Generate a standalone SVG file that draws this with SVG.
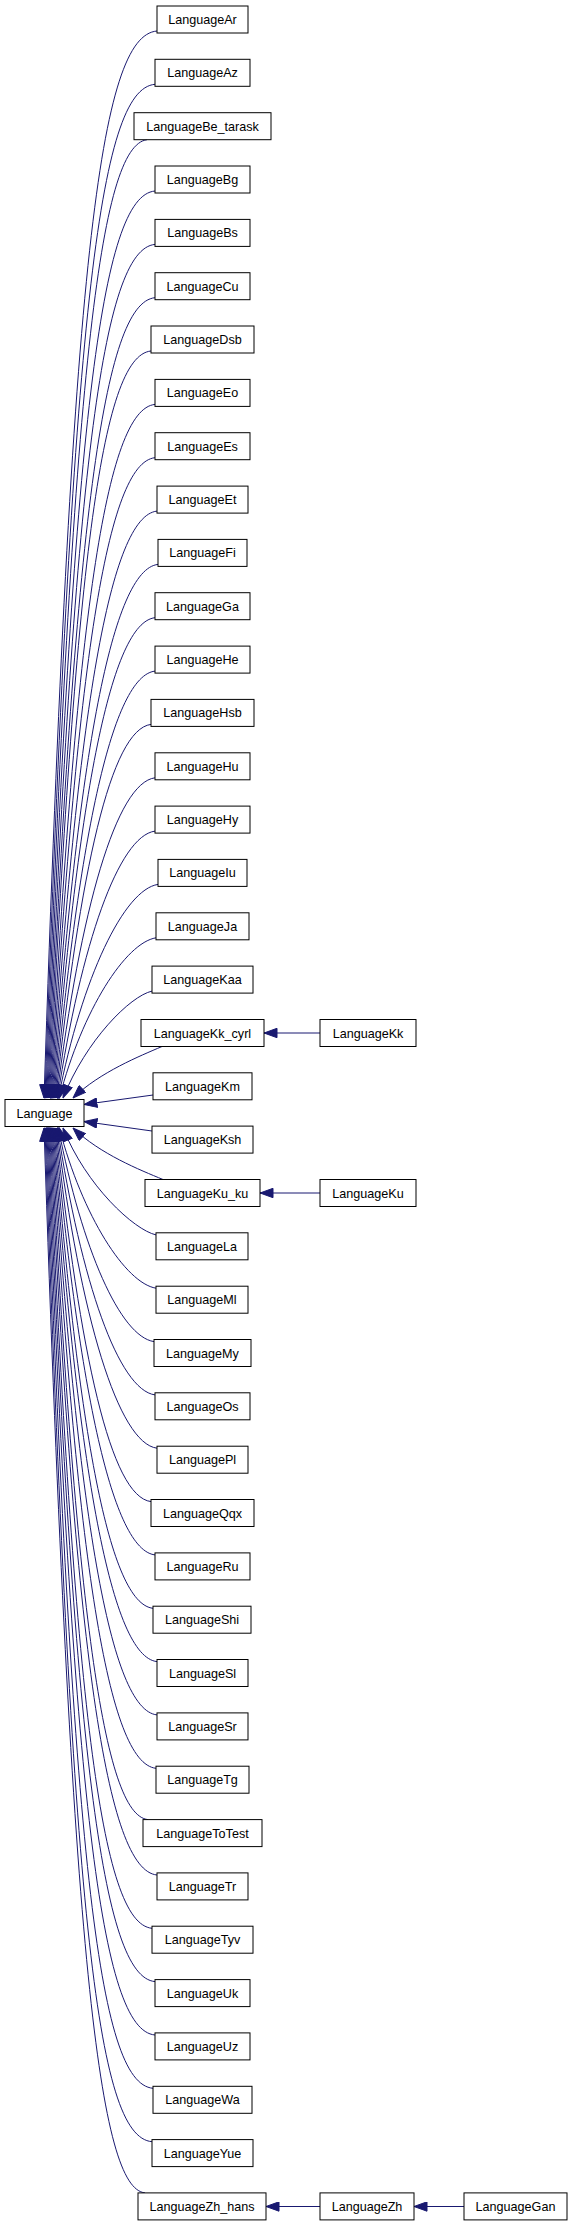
<svg xmlns="http://www.w3.org/2000/svg" width="573" height="2227" viewBox="0 0 573 2227">
<defs>
<style>
.n rect{fill:#fff;stroke:#000;stroke-width:1}
.n text{font-family:"Liberation Sans",Arial,sans-serif;font-size:12.6px;text-anchor:middle;fill:#000}
.e path{fill:none;stroke:#191970;stroke-width:1;marker-end:url(#ah)}
</style>
<marker id="ah" viewBox="0 0 14 10" refX="13.5" refY="5" markerWidth="14" markerHeight="10" markerUnits="userSpaceOnUse" orient="auto">
<path d="M0.5,0.3 L13.5,5 L0.5,9.7 Z" fill="#191970" stroke="#191970" stroke-width="1"/>
</marker>
</defs>
<rect width="573" height="2227" fill="#fff"/>
<g id="edges" class="e">
<path d="M157,31 C100,36 72,255 44,1098"/>
<path d="M155,84.3 C99,89.3 72.6,311.3 44.9,1098"/>
<path d="M147,139.7 C100,146 73.2,366.2 45.8,1098"/>
<path d="M155,191 C101,196 73.9,419.6 46.7,1098"/>
<path d="M155,244.4 C102.1,249.4 74.5,471 47.6,1098"/>
<path d="M155,297.7 C103.3,302.7 75.1,521.4 48.5,1098"/>
<path d="M151,351 C100.4,356 75.7,570.1 49.4,1098"/>
<path d="M155,404.4 C105.6,409.4 76.4,617.5 50.3,1098"/>
<path d="M155,457.7 C106.9,462.7 77,663.2 51.2,1098"/>
<path d="M157,511.1 C110.3,516.1 77.6,707.7 52.1,1098"/>
<path d="M158,564.4 C112.7,569.4 78.2,750.6 53,1098"/>
<path d="M155,617.7 C111.2,622.7 78.8,792 53.9,1098"/>
<path d="M155,671.1 C112.8,676.1 79.5,831.9 54.8,1098"/>
<path d="M151,724.4 C110.6,729.4 80.1,870.3 55.7,1098"/>
<path d="M155,777.8 C116.5,782.8 80.7,907.3 56.6,1098"/>
<path d="M155,831.1 C118.7,836.1 81.3,942.8 57.5,1098"/>
<path d="M158,884.4 C124.3,889.4 82,976.7 58.4,1098"/>
<path d="M156,937.8 C125.7,942.8 82.6,1009.3 59.3,1098"/>
<path d="M152,991.1 C130,996.1 86,1040.3 63,1098"/>
<path d="M162,1046.5 C140,1056 100,1072 73,1098"/>
<path d="M153,1095 L84,1104.5"/>
<path d="M152,1131 L84,1121.5"/>
<path d="M163,1179.5 C140,1170 100,1154 73,1128"/>
<path d="M156,1234.9 C134,1229.9 86,1185.7 63,1128"/>
<path d="M156,1288.2 C125.7,1283.2 82.6,1216.7 59.3,1128"/>
<path d="M154,1341.6 C120.3,1336.6 82,1249.3 58.4,1128"/>
<path d="M155,1394.9 C118.7,1389.9 81.3,1283.2 57.5,1128"/>
<path d="M157,1448.2 C118.5,1443.2 80.7,1318.7 56.6,1128"/>
<path d="M151,1501.6 C110.6,1496.6 80.1,1355.7 55.7,1128"/>
<path d="M155,1554.9 C112.8,1549.9 79.5,1394.1 54.8,1128"/>
<path d="M153,1608.3 C109.2,1603.3 78.8,1434 53.9,1128"/>
<path d="M157,1661.6 C111.7,1656.6 78.2,1475.4 53,1128"/>
<path d="M157,1714.9 C110.3,1709.9 77.6,1518.3 52.1,1128"/>
<path d="M156,1768.3 C107.9,1763.3 77,1562.8 51.2,1128"/>
<path d="M148,1819.6 C103,1815 76.4,1608.5 50.3,1128"/>
<path d="M157,1875 C106.4,1870 75.7,1655.9 49.4,1128"/>
<path d="M152,1928.3 C100.3,1923.3 75.1,1704.6 48.5,1128"/>
<path d="M155,1981.6 C102.1,1976.6 74.5,1755 47.6,1128"/>
<path d="M155,2035 C101,2030 73.9,1806.4 46.7,1128"/>
<path d="M153,2088.3 C98,2083.3 73.2,1859.8 45.8,1128"/>
<path d="M152,2141.7 C96,2136.7 72.6,1914.7 44.9,1128"/>
<path d="M145,2192.9 C100,2188 72,1971 44,1128"/>
<path d="M320,1033 L264,1033"/>
<path d="M320,1193 L260,1193"/>
<path d="M320,2206.5 L266,2206.5"/>
<path d="M464,2206.5 L414,2206.5"/>
</g>
<g id="Language" class="n"><rect x="5" y="1099.5" width="79" height="27"/><text x="44.5" y="1117.5">Language</text></g>
<g id="LanguageAr" class="n"><rect x="157" y="6" width="91" height="27"/><text x="202.5" y="24">LanguageAr</text></g>
<g id="LanguageAz" class="n"><rect x="155" y="59.3" width="95" height="27"/><text x="202.5" y="77.3">LanguageAz</text></g>
<g id="LanguageBe_tarask" class="n"><rect x="134" y="112.7" width="137" height="27"/><text x="202.5" y="130.7">LanguageBe_tarask</text></g>
<g id="LanguageBg" class="n"><rect x="155" y="166" width="95" height="27"/><text x="202.5" y="184">LanguageBg</text></g>
<g id="LanguageBs" class="n"><rect x="155" y="219.4" width="95" height="27"/><text x="202.5" y="237.4">LanguageBs</text></g>
<g id="LanguageCu" class="n"><rect x="155" y="272.7" width="95" height="27"/><text x="202.5" y="290.7">LanguageCu</text></g>
<g id="LanguageDsb" class="n"><rect x="151" y="326" width="103" height="27"/><text x="202.5" y="344">LanguageDsb</text></g>
<g id="LanguageEo" class="n"><rect x="155" y="379.4" width="95" height="27"/><text x="202.5" y="397.4">LanguageEo</text></g>
<g id="LanguageEs" class="n"><rect x="155" y="432.7" width="95" height="27"/><text x="202.5" y="450.7">LanguageEs</text></g>
<g id="LanguageEt" class="n"><rect x="157" y="486.1" width="91" height="27"/><text x="202.5" y="504.1">LanguageEt</text></g>
<g id="LanguageFi" class="n"><rect x="158" y="539.4" width="89" height="27"/><text x="202.5" y="557.4">LanguageFi</text></g>
<g id="LanguageGa" class="n"><rect x="155" y="592.7" width="95" height="27"/><text x="202.5" y="610.7">LanguageGa</text></g>
<g id="LanguageHe" class="n"><rect x="155" y="646.1" width="95" height="27"/><text x="202.5" y="664.1">LanguageHe</text></g>
<g id="LanguageHsb" class="n"><rect x="151" y="699.4" width="103" height="27"/><text x="202.5" y="717.4">LanguageHsb</text></g>
<g id="LanguageHu" class="n"><rect x="155" y="752.8" width="95" height="27"/><text x="202.5" y="770.8">LanguageHu</text></g>
<g id="LanguageHy" class="n"><rect x="155" y="806.1" width="95" height="27"/><text x="202.5" y="824.1">LanguageHy</text></g>
<g id="LanguageIu" class="n"><rect x="158" y="859.4" width="89" height="27"/><text x="202.5" y="877.4">LanguageIu</text></g>
<g id="LanguageJa" class="n"><rect x="156" y="912.8" width="93" height="27"/><text x="202.5" y="930.8">LanguageJa</text></g>
<g id="LanguageKaa" class="n"><rect x="152" y="966.1" width="101" height="27"/><text x="202.5" y="984.1">LanguageKaa</text></g>
<g id="LanguageKk_cyrl" class="n"><rect x="141" y="1019.5" width="123" height="27"/><text x="202.5" y="1037.5">LanguageKk_cyrl</text></g>
<g id="LanguageKm" class="n"><rect x="153" y="1072.8" width="99" height="27"/><text x="202.5" y="1090.8">LanguageKm</text></g>
<g id="LanguageKsh" class="n"><rect x="152" y="1126.1" width="101" height="27"/><text x="202.5" y="1144.1">LanguageKsh</text></g>
<g id="LanguageKu_ku" class="n"><rect x="145" y="1179.5" width="115" height="27"/><text x="202.5" y="1197.5">LanguageKu_ku</text></g>
<g id="LanguageLa" class="n"><rect x="156" y="1232.8" width="92" height="27"/><text x="202" y="1250.8">LanguageLa</text></g>
<g id="LanguageMl" class="n"><rect x="156" y="1286.2" width="92" height="27"/><text x="202" y="1304.2">LanguageMl</text></g>
<g id="LanguageMy" class="n"><rect x="154" y="1339.5" width="97" height="27"/><text x="202.5" y="1357.5">LanguageMy</text></g>
<g id="LanguageOs" class="n"><rect x="155" y="1392.8" width="95" height="27"/><text x="202.5" y="1410.8">LanguageOs</text></g>
<g id="LanguagePl" class="n"><rect x="157" y="1446.2" width="91" height="27"/><text x="202.5" y="1464.2">LanguagePl</text></g>
<g id="LanguageQqx" class="n"><rect x="151" y="1499.5" width="103" height="27"/><text x="202.5" y="1517.5">LanguageQqx</text></g>
<g id="LanguageRu" class="n"><rect x="155" y="1552.9" width="95" height="27"/><text x="202.5" y="1570.9">LanguageRu</text></g>
<g id="LanguageShi" class="n"><rect x="153" y="1606.2" width="98" height="27"/><text x="202" y="1624.2">LanguageShi</text></g>
<g id="LanguageSl" class="n"><rect x="157" y="1659.5" width="91" height="27"/><text x="202.5" y="1677.5">LanguageSl</text></g>
<g id="LanguageSr" class="n"><rect x="157" y="1712.9" width="91" height="27"/><text x="202.5" y="1730.9">LanguageSr</text></g>
<g id="LanguageTg" class="n"><rect x="156" y="1766.2" width="93" height="27"/><text x="202.5" y="1784.2">LanguageTg</text></g>
<g id="LanguageToTest" class="n"><rect x="143" y="1819.6" width="119" height="27"/><text x="202.5" y="1837.6">LanguageToTest</text></g>
<g id="LanguageTr" class="n"><rect x="157" y="1872.9" width="91" height="27"/><text x="202.5" y="1890.9">LanguageTr</text></g>
<g id="LanguageTyv" class="n"><rect x="152" y="1926.2" width="101" height="27"/><text x="202.5" y="1944.2">LanguageTyv</text></g>
<g id="LanguageUk" class="n"><rect x="155" y="1979.6" width="95" height="27"/><text x="202.5" y="1997.6">LanguageUk</text></g>
<g id="LanguageUz" class="n"><rect x="155" y="2032.9" width="95" height="27"/><text x="202.5" y="2050.9">LanguageUz</text></g>
<g id="LanguageWa" class="n"><rect x="153" y="2086.3" width="99" height="27"/><text x="202.5" y="2104.3">LanguageWa</text></g>
<g id="LanguageYue" class="n"><rect x="152" y="2139.6" width="101" height="27"/><text x="202.5" y="2157.6">LanguageYue</text></g>
<g id="LanguageZh_hans" class="n"><rect x="138" y="2192.9" width="128" height="27"/><text x="202" y="2210.9">LanguageZh_hans</text></g>
<g id="LanguageKk" class="n"><rect x="320" y="1019.5" width="96" height="27"/><text x="368" y="1037.5">LanguageKk</text></g>
<g id="LanguageKu" class="n"><rect x="320" y="1179.5" width="96" height="27"/><text x="368" y="1197.5">LanguageKu</text></g>
<g id="LanguageZh" class="n"><rect x="320" y="2192.9" width="94" height="27"/><text x="367" y="2210.9">LanguageZh</text></g>
<g id="LanguageGan" class="n"><rect x="464" y="2192.9" width="103" height="27"/><text x="515.5" y="2210.9">LanguageGan</text></g>
</svg>
